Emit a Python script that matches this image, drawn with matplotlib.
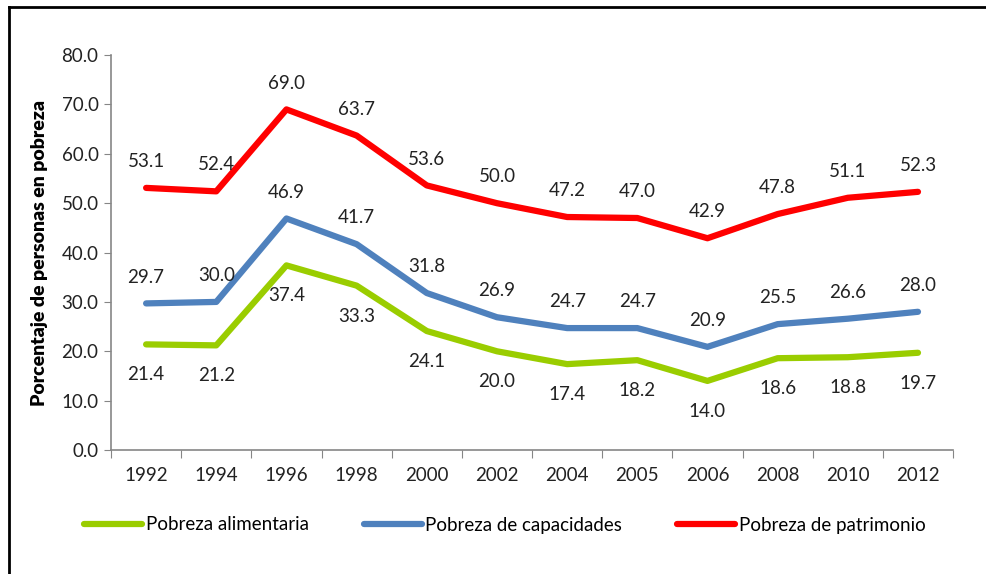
import matplotlib.pyplot as plt
from matplotlib.lines import Line2D

# Data
years = ['1992', '1994', '1996', '1998', '2000', '2002', '2004', '2005', '2006', '2008', '2010', '2012']
alimentaria = [21.4, 21.2, 37.4, 33.3, 24.1, 20.0, 17.4, 18.2, 14.0, 18.6, 18.8, 19.7]
capacidades = [29.7, 30.0, 46.9, 41.7, 31.8, 26.9, 24.7, 24.7, 20.9, 25.5, 26.6, 28.0]
patrimonio = [53.1, 52.4, 69.0, 63.7, 53.6, 50.0, 47.2, 47.0, 42.9, 47.8, 51.1, 52.3]
series_names = ['Pobreza alimentaria', 'Pobreza de capacidades', 'Pobreza de patrimonio']
yticks = [0, 10, 20, 30, 40, 50, 60, 70, 80]

plt.rcParams['font.family'] = ['Lato', 'DejaVu Sans']
fs = 13.5

fig = plt.figure(figsize=(9.86, 5.74), dpi=100)
ax = fig.add_axes([0.1126, 0.216, 0.854, 0.688])

x = list(range(len(years)))
green, blue, red = '#9ACD00', '#4F81BD', '#FF0000'

ax.plot(x, alimentaria, color=green, lw=4.5, solid_capstyle='round', solid_joinstyle='round')
ax.plot(x, capacidades, color=blue, lw=4.5, solid_capstyle='round', solid_joinstyle='round')
ax.plot(x, patrimonio, color=red, lw=4.5, solid_capstyle='round', solid_joinstyle='round')

# data labels
for i in x:
    ax.annotate(f'{alimentaria[i]:.1f}', (i, alimentaria[i]), xytext=(0, -22),
                textcoords='offset points', ha='center', va='center', fontsize=fs, color='#222222')
    ax.annotate(f'{capacidades[i]:.1f}', (i, capacidades[i]), xytext=(0, 19),
                textcoords='offset points', ha='center', va='center', fontsize=fs, color='#222222')
    ax.annotate(f'{patrimonio[i]:.1f}', (i, patrimonio[i]), xytext=(0, 19),
                textcoords='offset points', ha='center', va='center', fontsize=fs, color='#222222')

ax.set_xlim(-0.5, len(years) - 0.5)
ax.set_ylim(0, 80)
ax.set_yticks(yticks)
ax.set_yticklabels([f'{v:.1f}' for v in yticks], fontsize=fs, color='#222222')
ax.set_xticks([i - 0.5 for i in range(len(years) + 1)])
ax.set_xticklabels([])
ax.set_xticks(x, minor=True)
ax.set_xticklabels(years, minor=True, fontsize=fs, color='#222222')
ax.tick_params(axis='x', which='major', length=6, color='#868686', direction='out')
ax.tick_params(axis='x', which='minor', length=0, pad=12)
ax.tick_params(axis='y', length=5, color='#868686', pad=4)

for s in ['top', 'right']:
    ax.spines[s].set_visible(False)
for s in ['left', 'bottom']:
    ax.spines[s].set_color('#868686')
    ax.spines[s].set_linewidth(1.2)

ax.set_ylabel('Porcentaje de personas en pobreza', fontsize=14, fontweight='heavy', labelpad=10)

handles = [Line2D([], [], color=c, lw=4.5, solid_capstyle='round') for c in (green, blue, red)]
fig.legend(handles, series_names, loc='center', bbox_to_anchor=(0.512, 1 - 525 / 574), ncol=3,
           frameon=False, fontsize=fs, handlelength=3.1, handletextpad=0.2, columnspacing=2.9)

# outer border
fig.add_artist(Line2D([9 / 986, 9 / 986], [0, 1 - 7 / 574], transform=fig.transFigure, color='black', lw=2))
fig.add_artist(Line2D([9 / 986, 1], [1 - 7 / 574, 1 - 7 / 574], transform=fig.transFigure, color='black', lw=2))

fig.savefig('out.png', dpi=100)
